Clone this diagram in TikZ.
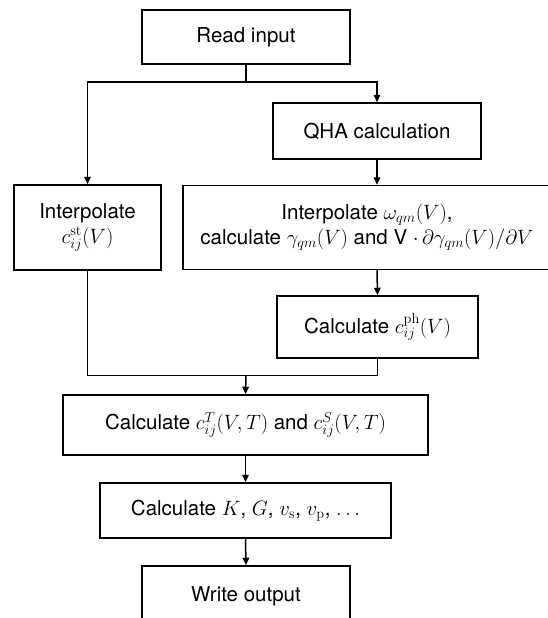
\documentclass[tikz,border=0pt]{standalone}
\usepackage[no-math]{fontspec}
\setmainfont{TeX Gyre Heros}
\usetikzlibrary{arrows.meta}
\begin{document}
\begin{tikzpicture}[x=1pt,y=-1pt,
  box/.style={draw, line width=1.5pt, inner sep=0pt, align=center,
    font=\fontsize{20.5}{25}\selectfont},
  link/.style={line width=1.5pt},
  arr/.style={line width=1.5pt, -{Triangle[length=7.5pt,width=6.5pt]}}]
\useasboundingbox (0,0) rectangle (548,618);
\clip (0,0) rectangle (548,618);
\node[box, minimum width=208pt, minimum height=54pt] (read) at (246,37) {Read input};
\node[box, minimum width=208pt, minimum height=56pt] (qha) at (377,131) {QHA calculation};
\node[box, minimum width=147pt, minimum height=85pt] (ist) at (87.5,227.5) {Interpolate\\$c_{ij}^{\mathrm{st}}(V)$};
\node[box, minimum width=368pt, minimum height=84pt] (iom) at (367,227.5)
  {Interpolate $\omega_{qm}(V)$,\\calculate $\gamma_{qm}(V)$ and V $\cdot\,\partial\gamma_{qm}(V)/\partial V$};
\node[box, minimum width=201pt, minimum height=62pt] (cph) at (377.5,327) {Calculate $c_{ij}^{\mathrm{ph}}(V)$};
\node[box, minimum width=365pt, minimum height=60pt] (cts) at (245.5,425) {Calculate $c_{ij}^{T}(V,T)$ and $c_{ij}^{S}(V,T)$};
\node[box, minimum width=291pt, minimum height=55pt] (kg) at (245.5,510.5) {Calculate $K$, $G$, $v_{\mathrm{s}}$, $v_{\mathrm{p}}$, $\dots$};
\node[box, minimum width=208pt, minimum height=60pt] (wo) at (246,596) {Write output};
\coordinate (split) at (246,82);
\coordinate (merge) at (246,375.5);
% split
\draw[link] (read.south) -- (split);
\draw[arr] (split) -| (ist.north);
\draw[arr] (split) -| (qha.north);
\draw[arr] (qha.south) -- (qha.south |- iom.north);
\draw[arr] (qha.south |- iom.south) -- (cph.north);
% merge
\draw[link] (ist.south) |- (merge);
\draw[link] (cph.south) |- (merge);
\draw[arr] (merge) -- (cts.north);
\draw[arr] (cts.south) -- (kg.north);
\draw[arr] (kg.south) -- (wo.north);
\end{tikzpicture}
\end{document}
